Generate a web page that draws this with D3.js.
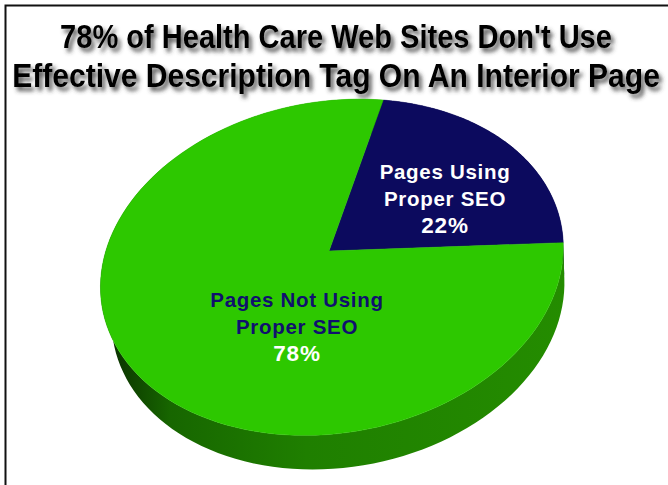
<!DOCTYPE html>
<html>
<head>
<meta charset="utf-8">
<script src="https://cdn.jsdelivr.net/npm/d3@7"></script>
<style>
  html, body { margin: 0; padding: 0; background: #ffffff; }
  svg { display: block; }
</style>
</head>
<body>
<svg id="chart" width="668" height="485"></svg>
<script>
// ---- data ----
const titleLines = ["78% of Health Care Web Sites Don't Use", "Effective Description Tag On An Interior Page"];
const categories = ["Pages Using Proper SEO", "Pages Not Using Proper SEO"];
const labelLines = [["Pages Using", "Proper SEO"], ["Pages Not Using", "Proper SEO"]];
const shares = [22, 78];
const topColors = ["#0c0a5e", "#2dc800"];
const labelColors = ["#ffffff", "#10106e"];
const valueColors = ["#ffffff", "#ffffff"];

// ---- 3D pie geometry (perspective view of a short cylinder) ----
const W = 668, H = 485;
const tilt = 45 * Math.PI / 180;     // camera pitch
const camDist = 7.1;                 // camera distance in pie radii
const radiusPx = 232;                // on-screen radius at the pie's centre plane
const roll = 10 * Math.PI / 180;     // in-plane roll of the view
const thickness = 0.22;              // pie height in radii
const centre = [329, 251];
const startAngle = 22 * Math.PI / 180;

function project(X, Y, Z) {
  const yc = Y * Math.cos(tilt) - Z * Math.sin(tilt);
  const zc = camDist - (Y * Math.sin(tilt) + Z * Math.cos(tilt));
  const s = radiusPx * camDist / zc;
  const u = X * s, v = -yc * s;
  return [centre[0] + u * Math.cos(roll) + v * Math.sin(roll),
          centre[1] - u * Math.sin(roll) + v * Math.cos(roll)];
}
// angle measured clockwise from the back of the pie
const rim = (a, Y) => project(Math.sin(a), Y, -Math.cos(a));

const svg = d3.select("#chart");
const defs = svg.append("defs");

const shadow = defs.append("filter").attr("id", "titleShadow")
  .attr("filterUnits", "userSpaceOnUse")
  .attr("x", 0).attr("y", 0).attr("width", W).attr("height", 110);
shadow.append("feDropShadow").attr("dx", 3).attr("dy", 4).attr("stdDeviation", 2.2)
  .attr("flood-color", "#3a3a3a").attr("flood-opacity", 0.85);

const sideGrad = defs.append("linearGradient").attr("id", "sideGreen")
  .attr("gradientUnits", "userSpaceOnUse").attr("x1", 95).attr("y1", 0).attr("x2", 565).attr("y2", 0);
[[0, "#041400"], [0.05, "#0c3800"], [0.16, "#176600"], [0.45, "#1f7f00"], [1, "#248c00"]]
  .forEach(([o, c]) => sideGrad.append("stop").attr("offset", o).attr("stop-color", c));
const sideColors = ["#07063c", "url(#sideGreen)"];

// frame
svg.append("path").attr("d", `M5.5,${H} V5.5 H${W}`)
  .attr("fill", "none").attr("stroke", "#111").attr("stroke-width", 2);

// title: condensed bold lines, squeezed horizontally to their set widths
const titleWidths = [552, 648];
const titleG = svg.append("g").attr("filter", "url(#titleShadow)");
titleLines.forEach((t, i) => {
  const txt = titleG.append("text")
    .attr("x", 0).attr("y", 0)
    .attr("text-anchor", "middle")
    .attr("font-family", "Liberation Sans, Arial, sans-serif")
    .attr("font-weight", "bold").attr("font-size", 33)
    .attr("fill", "#000")
    .text(t);
  const natural = txt.node().getComputedTextLength();
  txt.attr("transform", `translate(336,${48 + i * 39}) scale(${titleWidths[i] / natural},1)`);
});

// slices
const arcs = d3.pie().sort(null).value(d => d)
  .startAngle(startAngle).endAngle(startAngle + 2 * Math.PI)(shares);
const line = d3.line();
const samples = (a0, a1) => d3.range(0, 121).map(k => a0 + (a1 - a0) * k / 120);

const pie = svg.append("g");
// outer walls first; the top faces cover their hidden back part
pie.selectAll("path.side").data(arcs).join("path").attr("class", "side")
  .attr("d", d => {
    const as = samples(d.startAngle, d.endAngle);
    const pts = as.map(a => rim(a, 0)).concat(as.slice().reverse().map(a => rim(a, -thickness)));
    return line(pts) + "Z";
  })
  .attr("fill", (d, i) => sideColors[i]);

pie.selectAll("path.top").data(arcs).join("path").attr("class", "top")
  .attr("d", d => line([project(0, 0, 0)].concat(samples(d.startAngle, d.endAngle).map(a => rim(a, 0)))) + "Z")
  .attr("fill", (d, i) => topColors[i])
  .attr("stroke", (d, i) => topColors[i]).attr("stroke-width", 0.5);

// labels
const labelPos = [[445, 179], [297, 307]];
const labels = svg.append("g")
  .attr("font-family", "Liberation Sans, Arial, sans-serif")
  .attr("font-weight", "bold").attr("text-anchor", "middle");
arcs.forEach((d, i) => {
  const g = labels.append("g");
  g.selectAll("text").data(labelLines[i]).join("text")
    .attr("x", labelPos[i][0]).attr("y", (t, j) => labelPos[i][1] + j * 27)
    .attr("font-size", 20.5).attr("letter-spacing", 0.7)
    .attr("fill", labelColors[i]).text(t => t);
  g.append("text")
    .attr("x", labelPos[i][0]).attr("y", labelPos[i][1] + 54)
    .attr("font-size", 22.5).attr("letter-spacing", 0.8)
    .attr("fill", valueColors[i]).text(d.data + "%");
});
</script>
</body>
</html>
